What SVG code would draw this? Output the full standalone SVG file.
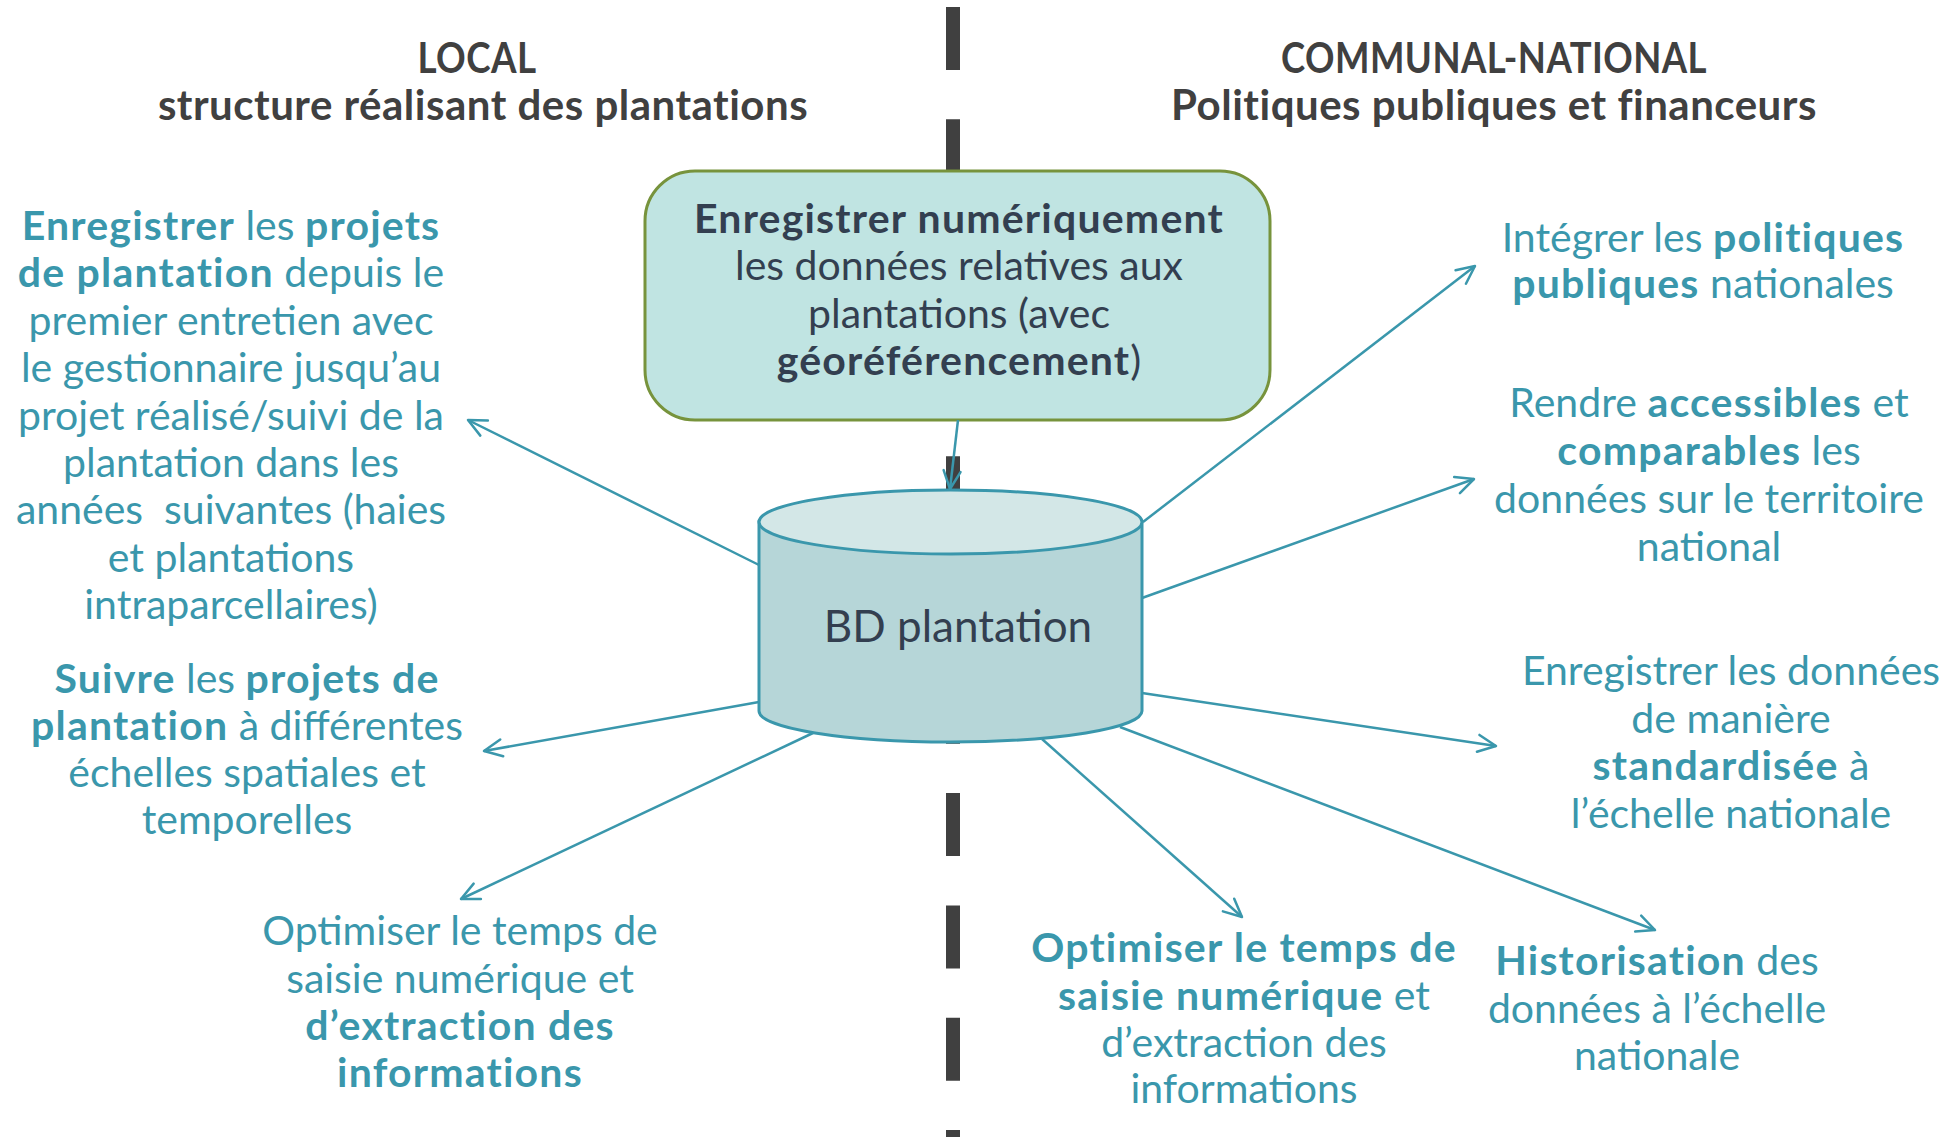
<svg xmlns="http://www.w3.org/2000/svg" width="1954" height="1137" viewBox="0 0 1954 1137">
<style>
text{font-family:Lato,"Open Sans","Liberation Sans",sans-serif;text-anchor:middle;white-space:pre}
.hd{font-size:42px;font-weight:bold;fill:#404040;letter-spacing:0.5px}
.t{font-size:41px;fill:#3A97AC}
.d{font-size:41px;fill:#333F50}
.b{font-weight:bold;letter-spacing:1.2px}
.con{stroke:#3A97AC;stroke-width:2.5;fill:none;marker-end:url(#arr)}
</style>
<defs>
<marker id="arr" markerUnits="userSpaceOnUse" markerWidth="26" markerHeight="26" viewBox="0 0 26 26" refX="21" refY="13" orient="auto">
<path d="M3,4.5 L21,13 L3,21.5" fill="none" stroke="#3A97AC" stroke-width="2.5" stroke-linecap="round" stroke-linejoin="round"/>
</marker>
</defs>
<rect width="1954" height="1137" fill="#ffffff"/>
<line id="separator" x1="953" y1="7" x2="953" y2="1137" stroke="#404040" stroke-width="14" stroke-dasharray="63 49.3"/>
<g id="header-local">
<text class="hd" x="477" y="73" textLength="119" lengthAdjust="spacingAndGlyphs">LOCAL</text>
<text class="hd" x="483" y="120">structure réalisant des plantations</text>
</g>
<g id="header-national">
<text class="hd" x="1494" y="73" textLength="426" lengthAdjust="spacingAndGlyphs">COMMUNAL-NATIONAL</text>
<text class="hd" x="1494" y="120">Politiques publiques et financeurs</text>
</g>
<g id="node-saisie">
<rect x="645" y="171" width="625" height="249" rx="50" fill="#C0E4E2" stroke="#77933C" stroke-width="3"/>
<text class="d b" x="959" y="233">Enregistrer numériquement</text>
<text class="d" x="959" y="280">les données relatives aux</text>
<text class="d" x="959" y="328">plantations (avec</text>
<text class="d" x="959" y="375"><tspan class="b">géoréférencement</tspan>)</text>
</g>
<g id="node-bd">
<path d="M759,522 L759,711 A191.5,31 0 0 0 1142,711 L1142,522 Z" fill="#B6D6D8" stroke="#3A97AC" stroke-width="3"/>
<ellipse cx="950.5" cy="522" rx="191.5" ry="32" fill="#D3E7E7" stroke="#3A97AC" stroke-width="3"/>
<text class="d" x="958" y="642" style="font-size:44px">BD plantation</text>
</g>
<g id="node-enregistrer-projets">
<text class="t" x="231" y="240"><tspan class="b">Enregistrer</tspan> les <tspan class="b">projets</tspan></text>
<text class="t" x="231" y="287.4"><tspan class="b">de plantation</tspan> depuis le</text>
<text class="t" x="231" y="334.8">premier entretien avec</text>
<text class="t" x="231" y="382.2">le gestionnaire jusqu’au</text>
<text class="t" x="231" y="429.6">projet réalisé/suivi de la</text>
<text class="t" x="231" y="477">plantation dans les</text>
<text class="t" x="231" y="524.4">années  suivantes (haies</text>
<text class="t" x="231" y="571.8">et plantations</text>
<text class="t" x="231" y="619.2">intraparcellaires)</text>
</g>
<g id="node-suivre">
<text class="t" x="247" y="693"><tspan class="b">Suivre</tspan> les <tspan class="b">projets de</tspan></text>
<text class="t" x="247" y="740"><tspan class="b">plantation</tspan> à différentes</text>
<text class="t" x="247" y="787">échelles spatiales et</text>
<text class="t" x="247" y="834">temporelles</text>
</g>
<g id="node-optimiser-local">
<text class="t" x="460" y="945">Optimiser le temps de</text>
<text class="t" x="460" y="993">saisie numérique et</text>
<text class="t b" x="460" y="1040">d’extraction des</text>
<text class="t b" x="460" y="1087">informations</text>
</g>
<g id="node-integrer">
<text class="t" x="1703" y="252">Intégrer les <tspan class="b">politiques</tspan></text>
<text class="t" x="1703" y="298"><tspan class="b">publiques</tspan> nationales</text>
</g>
<g id="node-rendre">
<text class="t" x="1709" y="417">Rendre <tspan class="b">accessibles</tspan> et</text>
<text class="t" x="1709" y="465"><tspan class="b">comparables</tspan> les</text>
<text class="t" x="1709" y="513">données sur le territoire</text>
<text class="t" x="1709" y="561">national</text>
</g>
<g id="node-standard">
<text class="t" x="1731" y="685">Enregistrer les données</text>
<text class="t" x="1731" y="733">de manière</text>
<text class="t" x="1731" y="780"><tspan class="b">standardisée</tspan> à</text>
<text class="t" x="1731" y="828">l’échelle nationale</text>
</g>
<g id="node-optimiser-national">
<text class="t b" x="1244" y="962">Optimiser le temps de</text>
<text class="t" x="1244" y="1010"><tspan class="b">saisie numérique</tspan> et</text>
<text class="t" x="1244" y="1057">d’extraction des</text>
<text class="t" x="1244" y="1103">informations</text>
</g>
<g id="node-historisation">
<text class="t" x="1657" y="975"><tspan class="b">Historisation</tspan> des</text>
<text class="t" x="1657" y="1023">données à l’échelle</text>
<text class="t" x="1657" y="1070">nationale</text>
</g>
<g id="connectors">
<line class="con" x1="958" y1="420" x2="950" y2="489"/>
<line class="con" x1="759" y1="565" x2="468" y2="420"/>
<line class="con" x1="759" y1="702" x2="484" y2="751"/>
<line class="con" x1="813" y1="733" x2="461" y2="899"/>
<line class="con" x1="1143" y1="522" x2="1475" y2="266"/>
<line class="con" x1="1142" y1="598" x2="1474" y2="479"/>
<line class="con" x1="1142" y1="693" x2="1496" y2="746"/>
<line class="con" x1="1042" y1="739" x2="1242" y2="917"/>
<line class="con" x1="1120" y1="727" x2="1655" y2="930"/>
</g>
</svg>
